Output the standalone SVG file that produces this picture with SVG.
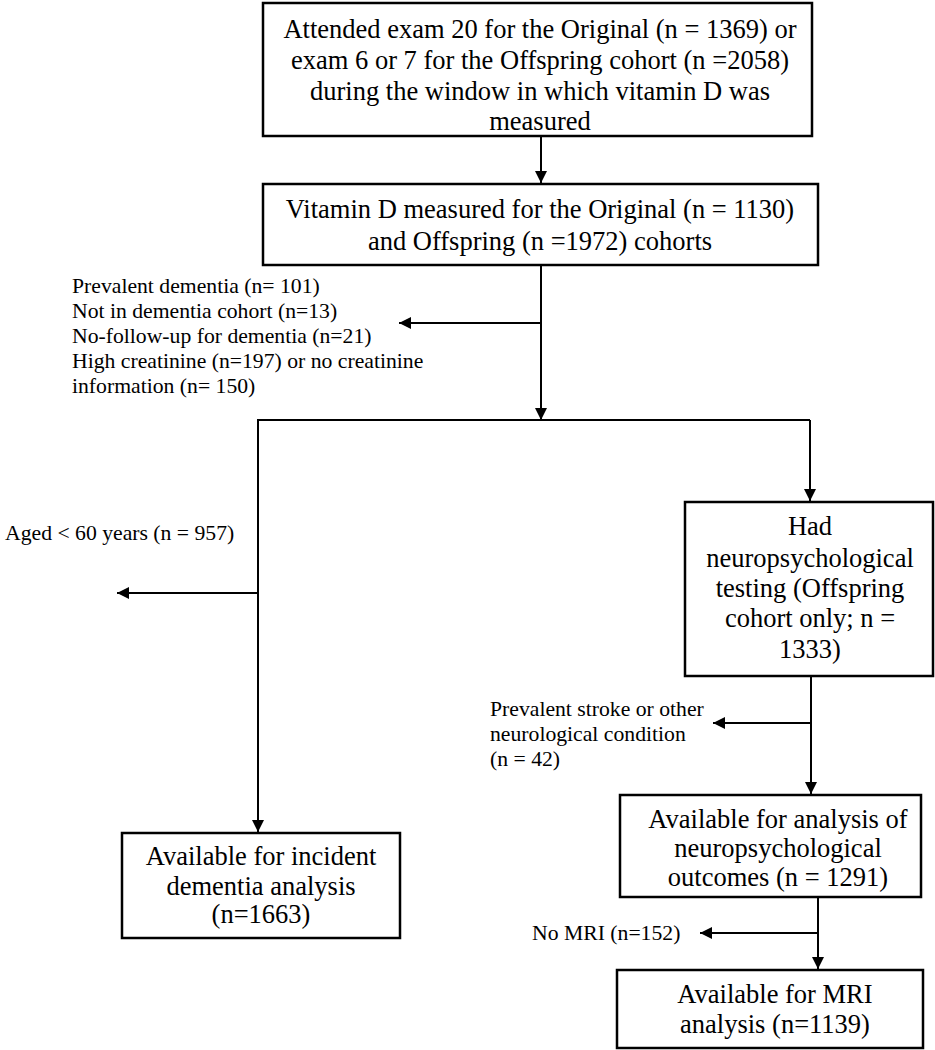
<svg xmlns="http://www.w3.org/2000/svg" width="935" height="1050" viewBox="0 0 935 1050">
<style>
.box{fill:#fff;stroke:#000;stroke-width:2.5}
.t{font-family:"Liberation Serif","Times New Roman",serif;font-size:26.5px;fill:#000;text-anchor:middle}
.s{font-family:"Liberation Serif","Times New Roman",serif;font-size:21.7px;fill:#000}
.c{fill:none;stroke:#000;stroke-width:2}
</style>
<defs>
<marker id="ah" viewBox="0 0 10 10" refX="10" refY="5" markerWidth="6" markerHeight="6" orient="auto" markerUnits="strokeWidth">
<path d="M0,0 L10,5 L0,10 z" fill="#000"/>
</marker>
</defs>
<rect width="935" height="1050" fill="#fff"/>
<g id="connectors">
<line class="c" x1="541" y1="136" x2="541" y2="183" marker-end="url(#ah)"/>
<line class="c" x1="541" y1="265" x2="541" y2="420" marker-end="url(#ah)"/>
<line class="c" x1="541" y1="323" x2="399" y2="323" marker-end="url(#ah)"/>
<polyline class="c" points="258,700 258,420 810,420"/>
<line class="c" x1="258" y1="690" x2="258" y2="832" marker-end="url(#ah)"/>
<line class="c" x1="810" y1="420" x2="810" y2="501" marker-end="url(#ah)"/>
<line class="c" x1="258" y1="593" x2="117" y2="593" marker-end="url(#ah)"/>
<line class="c" x1="811" y1="676" x2="811" y2="794" marker-end="url(#ah)"/>
<line class="c" x1="811" y1="723" x2="713" y2="723" marker-end="url(#ah)"/>
<line class="c" x1="818" y1="897" x2="818" y2="969" marker-end="url(#ah)"/>
<line class="c" x1="818" y1="933" x2="700" y2="933" marker-end="url(#ah)"/>
</g>
<g id="n1">
<rect class="box" x="263" y="3" width="549" height="133"/>
<text class="t" x="540" y="38">Attended exam 20 for the Original (n = 1369) or</text>
<text class="t" x="540" y="69">exam 6 or 7 for the Offspring cohort (n =2058)</text>
<text class="t" x="540" y="100">during the window in which vitamin D was</text>
<text class="t" x="540" y="130">measured</text>
</g>
<g id="n2">
<rect class="box" x="263" y="184" width="555" height="81"/>
<text class="t" x="540" y="218">Vitamin D measured for the Original (n = 1130)</text>
<text class="t" x="540" y="250">and Offspring (n =1972) cohorts</text>
</g>
<g id="excl1">
<text class="s" x="72" y="293">Prevalent dementia (n= 101)</text>
<text class="s" x="72" y="318">Not in dementia cohort (n=13)</text>
<text class="s" x="72" y="343">No-follow-up for dementia (n=21)</text>
<text class="s" x="72" y="368">High creatinine (n=197) or no creatinine</text>
<text class="s" x="72" y="393">information (n= 150)</text>
</g>
<g id="excl2">
<text class="s" x="5" y="540">Aged &lt; 60 years (n = 957)</text>
</g>
<g id="n3">
<rect class="box" x="685" y="502" width="248" height="174"/>
<text class="t" x="810" y="535">Had</text>
<text class="t" x="810" y="567">neuropsychological</text>
<text class="t" x="810" y="597">testing (Offspring</text>
<text class="t" x="810" y="627">cohort only; n =</text>
<text class="t" x="810" y="658">1333)</text>
</g>
<g id="excl3">
<text class="s" x="490" y="716">Prevalent stroke or other</text>
<text class="s" x="490" y="741">neurological condition</text>
<text class="s" x="490" y="766">(n = 42)</text>
</g>
<g id="n4">
<rect class="box" x="620" y="795" width="301" height="102"/>
<text class="t" x="778" y="828">Available for analysis of</text>
<text class="t" x="778" y="857">neuropsychological</text>
<text class="t" x="778" y="886">outcomes (n = 1291)</text>
</g>
<g id="n5">
<rect class="box" x="122" y="833" width="278" height="105"/>
<text class="t" x="261" y="865">Available for incident</text>
<text class="t" x="261" y="895">dementia analysis</text>
<text class="t" x="261" y="923">(n=1663)</text>
</g>
<g id="excl4">
<text class="s" x="532" y="940">No MRI (n=152)</text>
</g>
<g id="n6">
<rect class="box" x="617" y="970" width="306" height="78"/>
<text class="t" x="775" y="1003">Available for MRI</text>
<text class="t" x="775" y="1033">analysis (n=1139)</text>
</g>
</svg>
